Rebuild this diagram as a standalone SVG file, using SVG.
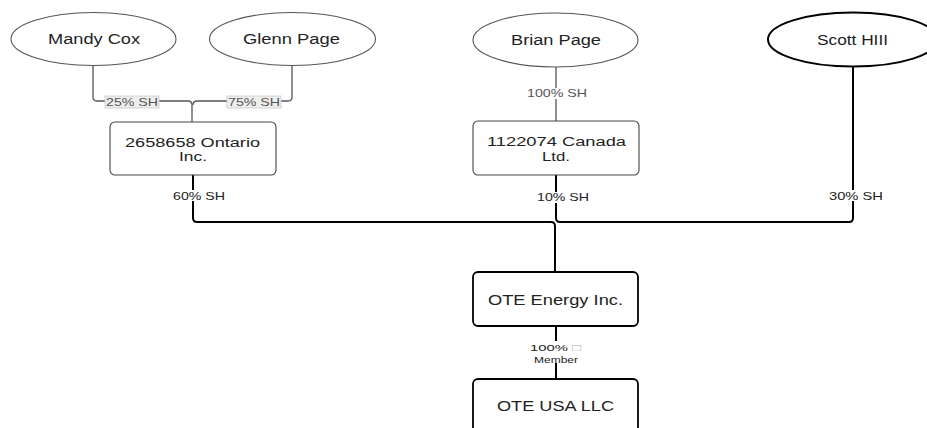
<svg xmlns="http://www.w3.org/2000/svg" width="927" height="428" viewBox="0 0 927 428">
<style>
  .bg { fill: #ffffff; }
  .person { fill: #ffffff; stroke: #555555; stroke-width: 1.1; }
  .person-strong { fill: #ffffff; stroke: #000000; stroke-width: 2; }
  .box { fill: #ffffff; stroke: #444444; stroke-width: 1.1; }
  .box-strong { fill: #ffffff; stroke: #000000; stroke-width: 1.8; }
  .t { font-family: "Liberation Sans", Arial, sans-serif; font-size: 14px; fill: #222222; text-anchor: middle; }
  .t2 { font-family: "Liberation Sans", Arial, sans-serif; font-size: 12.5px; fill: #222222; text-anchor: middle; }
  .s { font-family: "Liberation Sans", Arial, sans-serif; font-size: 10.5px; fill: #222222; text-anchor: middle; }
  .s2 { font-family: "Liberation Sans", Arial, sans-serif; font-size: 9.5px; fill: #222222; text-anchor: middle; }
  .sg { fill: #555555; }
  .thin { fill: none; stroke: #555555; stroke-width: 1.3; }
  .thick { fill: none; stroke: #000000; stroke-width: 2; }
  .lblbox { fill: #eeeeee; stroke: #c8c8c8; stroke-width: 0.8; }
</style>
<rect class="bg" x="0" y="0" width="927" height="428"/>

<g id="connectors">
  <path class="thin" d="M93,65 V97 Q93,101 97,101 H188 Q192,101 192,105 V122"/>
  <path class="thin" d="M292,65 V97 Q292,101 288,101 H197 Q193,101 193,105"/>
  <path class="thin" d="M556,67 V121"/>
  <path class="thick" d="M193,175 V218 Q193,222 197,222 H551 Q555,222 555,226 V272"/>
  <path class="thick" d="M556,175 V218 Q556,222 560,222 H849 Q853,222 853,218 V66"/>
  <path class="thick" d="M556,326 V379"/>
  <rect class="lblbox" x="105" y="96" width="54" height="12"/>
  <text class="s sg" x="132" y="106" textLength="52" lengthAdjust="spacingAndGlyphs">25% SH</text>
  <rect class="lblbox" x="227" y="96" width="54" height="12"/>
  <text class="s sg" x="254" y="106" textLength="52" lengthAdjust="spacingAndGlyphs">75% SH</text>
  <rect class="bg" x="526" y="88" width="62" height="11"/>
  <text class="s sg" x="557" y="97" textLength="60" lengthAdjust="spacingAndGlyphs">100% SH</text>
  <rect class="bg" x="172" y="190" width="54" height="11"/>
  <text class="s" x="199" y="200" textLength="52" lengthAdjust="spacingAndGlyphs">60% SH</text>
  <rect class="bg" x="536" y="192" width="54" height="11"/>
  <text class="s" x="563" y="201" textLength="52" lengthAdjust="spacingAndGlyphs">10% SH</text>
  <rect class="bg" x="828" y="190" width="56" height="11"/>
  <text class="s" x="856" y="200" textLength="54" lengthAdjust="spacingAndGlyphs">30% SH</text>
  <rect class="bg" x="528" y="341" width="56" height="22"/>
  <text class="s2" x="555.5" y="351" textLength="51" lengthAdjust="spacingAndGlyphs">100% <tspan fill="#aaaaaa">□</tspan></text>
  <text class="s2" x="556" y="362.5" textLength="44" lengthAdjust="spacingAndGlyphs">Member</text>
</g>

<g id="mandy-cox">
  <ellipse class="person" cx="93.5" cy="39" rx="82.5" ry="26.5"/>
  <text class="t" x="94" y="44" textLength="92" lengthAdjust="spacingAndGlyphs">Mandy Cox</text>
</g>
<g id="glenn-page">
  <ellipse class="person" cx="292.5" cy="39" rx="83" ry="26.5"/>
  <text class="t" x="291.5" y="44" textLength="97" lengthAdjust="spacingAndGlyphs">Glenn Page</text>
</g>
<g id="brian-page">
  <ellipse class="person" cx="555.5" cy="40" rx="82.5" ry="27"/>
  <text class="t" x="556" y="45" textLength="90" lengthAdjust="spacingAndGlyphs">Brian Page</text>
</g>
<g id="scott-hill">
  <ellipse class="person-strong" cx="853" cy="39.5" rx="85" ry="27"/>
  <text class="t" x="852.5" y="45" textLength="71" lengthAdjust="spacingAndGlyphs">Scott HIII</text>
</g>

<g id="ontario">
  <rect class="box" x="110" y="122" width="166" height="53" rx="5"/>
  <text class="t2" x="192.5" y="146.5" textLength="135" lengthAdjust="spacingAndGlyphs">2658658 Ontario</text>
  <text class="t2" x="193" y="161" textLength="28" lengthAdjust="spacingAndGlyphs">Inc.</text>
</g>
<g id="canada">
  <rect class="box" x="473" y="121" width="166" height="54" rx="5"/>
  <text class="t2" x="556.5" y="146" textLength="139" lengthAdjust="spacingAndGlyphs">1122074 Canada</text>
  <text class="t2" x="556" y="160.5" textLength="28" lengthAdjust="spacingAndGlyphs">Ltd.</text>
</g>
<g id="ote-energy">
  <rect class="box-strong" x="473" y="272" width="165" height="54" rx="5"/>
  <text class="t" x="555.5" y="305" textLength="135" lengthAdjust="spacingAndGlyphs">OTE Energy Inc.</text>
</g>
<g id="ote-usa">
  <rect class="box-strong" x="473" y="379" width="165" height="60" rx="5"/>
  <text class="t" x="555.5" y="411" textLength="117" lengthAdjust="spacingAndGlyphs">OTE USA LLC</text>
</g>
</svg>
